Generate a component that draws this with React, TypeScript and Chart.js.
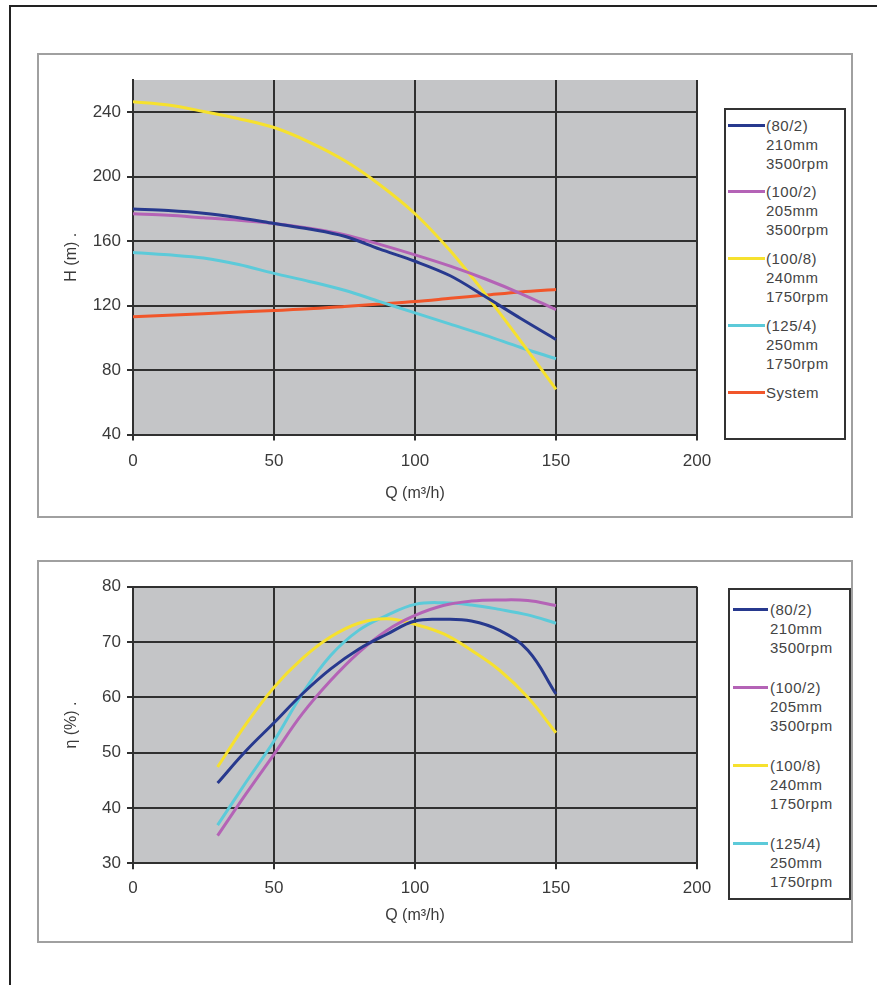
import React, { useEffect, useRef } from "react";
import { Chart, registerables } from "chart.js";

Chart.register(...registerables);

// ---------- DATA ----------
// Head curves, H (m) vs Q (m3/h)
const headQ = [0, 12.5, 25, 37.5, 50, 62.5, 75, 87.5, 100, 112.5, 125, 137.5, 150];
const head80_2 = [180, 179, 177.3, 174.5, 171, 167.5, 163, 155, 147.5, 138.5, 125.5, 112, 99];
const head100_2 = [177, 176, 174.5, 173, 171, 168, 164, 158, 151.5, 144.5, 136.5, 127.5, 117.5];
const head100_8 = [246.5, 244.5, 240.5, 236, 230.5, 221.5, 210, 195, 177, 154, 127, 98, 68];
const head125_4 = [153, 151.5, 149.5, 145.5, 140, 135, 129.5, 122.5, 115.5, 108.5, 101.5, 94, 87];
const headSystem = [113, 114, 115, 116, 117, 118, 119.5, 121, 122.5, 124.5, 126.5, 128.5, 130];

// Efficiency curves, eta (%) vs Q (m3/h)
const effQ = [30, 40, 50, 60, 70, 80, 90, 100, 110, 120, 130, 140, 150];
const eff80_2 = [44.5, 50.3, 55.4, 60.6, 65.1, 68.7, 71.4, 73.8, 74.1, 73.8, 72.1, 68.5, 60.6];
const eff100_2 = [35, 42.5, 49.7, 57, 63, 68.1, 72.1, 74.8, 76.6, 77.4, 77.6, 77.5, 76.6];
const eff100_8 = [47.4, 55.1, 61.8, 67, 70.9, 73.4, 74.2, 73.2, 71.5, 68.5, 64.9, 60, 53.6];
const eff125_4 = [36.9, 44.6, 52.1, 60.6, 67.5, 72.1, 74.8, 76.8, 77.1, 76.7, 75.9, 74.9, 73.4];

// Legend labels
const label80_2 = ["(80/2)", "210mm", "3500rpm"];
const label100_2 = ["(100/2)", "205mm", "3500rpm"];
const label100_8 = ["(100/8)", "240mm", "1750rpm"];
const label125_4 = ["(125/4)", "250mm", "1750rpm"];
const labelSystem = ["System"];

// Axis settings
const xMin = 0, xMax = 200, xStep = 50;
const headMin = 40, headMax = 260, headStep = 40;
const effMin = 30, effMax = 80, effStep = 10;
const xTitle = "Q (m\u00B3/h)";
const headTitle = "H (m) .";
const effTitle = "\u03B7 (%) .";

// Colours
const cBlue = "#27398e";
const cPurple = "#b463b6";
const cYellow = "#f6e12e";
const cCyan = "#5ccad9";
const cRed = "#f1562a";

const FONT = "'Liberation Sans', Arial, sans-serif";

type Series = { label: string[]; color: string; q: number[]; v: number[] };

const headSeries: Series[] = [
  { label: label80_2, color: cBlue, q: headQ, v: head80_2 },
  { label: label100_2, color: cPurple, q: headQ, v: head100_2 },
  { label: label100_8, color: cYellow, q: headQ, v: head100_8 },
  { label: label125_4, color: cCyan, q: headQ, v: head125_4 },
  { label: labelSystem, color: cRed, q: headQ, v: headSystem },
];

const effSeries: Series[] = [
  { label: label80_2, color: cBlue, q: effQ, v: eff80_2 },
  { label: label100_2, color: cPurple, q: effQ, v: eff100_2 },
  { label: label100_8, color: cYellow, q: effQ, v: eff100_8 },
  { label: label125_4, color: cCyan, q: effQ, v: eff125_4 },
];

const plotBg = {
  id: "plotBg",
  beforeDraw(chart: any) {
    const { ctx, chartArea } = chart;
    ctx.save();
    ctx.fillStyle = "#c4c5c7";
    ctx.fillRect(chartArea.left, chartArea.top, chartArea.width, chartArea.height);
    ctx.restore();
  },
};

type PanelProps = {
  series: Series[];
  yMin: number;
  yMax: number;
  yStep: number;
  yTitle: string;
  width: number;
  height: number;
  areaLeft: number;
  areaTop: number;
  areaRight: number;
  areaBottom: number;
  xTickPad: number;
  xTitlePad: number;
  yTitlePad: number;
  monotone: boolean;
};

function Panel(p: PanelProps) {
  const ref = useRef<HTMLCanvasElement | null>(null);
  useEffect(() => {
    if (!ref.current) return;
    const gridColor = "#303030";
    const chart = new Chart(ref.current, {
      type: "line",
      data: {
        datasets: p.series.map((s) => ({
          label: s.label.join(" "),
          data: s.q.map((x, i) => ({ x, y: s.v[i] })),
          borderColor: s.color,
          backgroundColor: s.color,
          borderWidth: 3,
          pointRadius: 0,
          tension: 0.4,
          cubicInterpolationMode: p.monotone ? "monotone" : "default",
          fill: false,
        })),
      },
      options: {
        animation: false,
        responsive: false,
        devicePixelRatio: 1,
        layout: {
          padding: { left: 0, top: p.areaTop, right: p.width - p.areaRight, bottom: 0 },
        },
        plugins: { legend: { display: false }, tooltip: { enabled: false } },
        scales: {
          x: {
            type: "linear",
            min: xMin,
            max: xMax,
            afterFit: (s: any) => {
              s.height = p.height - p.areaBottom;
            },
            ticks: {
              stepSize: xStep,
              color: "#3a3a3a",
              font: { family: FONT, size: 17 },
              padding: p.xTickPad,
              maxRotation: 0,
            },
            grid: { color: gridColor, lineWidth: 2, tickLength: 6 },
            border: { color: gridColor, width: 2 },
            title: {
              display: true,
              text: xTitle,
              color: "#3a3a3a",
              font: { family: FONT, size: 16 },
              padding: { top: 0, bottom: p.xTitlePad },
            },
          },
          y: {
            type: "linear",
            min: p.yMin,
            max: p.yMax,
            afterFit: (s: any) => {
              s.width = p.areaLeft;
            },
            ticks: {
              stepSize: p.yStep,
              includeBounds: false,
              color: "#3a3a3a",
              font: { family: FONT, size: 17 },
              padding: 6,
            },
            grid: { color: gridColor, lineWidth: 2, tickLength: 6 },
            border: { color: gridColor, width: 2 },
            title: {
              display: true,
              text: p.yTitle,
              color: "#3a3a3a",
              font: { family: FONT, size: 16 },
              padding: { top: p.yTitlePad, bottom: 0 },
            },
          },
        },
      } as any,
      plugins: [plotBg],
    });
    return () => chart.destroy();
  }, []);
  return (
    <canvas
      ref={ref}
      width={p.width}
      height={p.height}
      style={{ position: "absolute", left: 0, top: 0, width: p.width, height: p.height }}
    />
  );
}

type LegendProps = {
  series: Series[];
  left: number;
  top: number;
  width: number;
  height: number;
  firstCenter: number;
  spacing: number;
  swatchLeft: number;
  swatchWidth: number;
  textLeft: number;
};

function Legend(l: LegendProps) {
  const lh = 19;
  return (
    <div
      style={{
        position: "absolute",
        left: l.left,
        top: l.top,
        width: l.width,
        height: l.height,
        border: "2px solid #333",
        boxSizing: "border-box",
        background: "#fff",
      }}
    >
      {l.series.map((s, i) => {
        const c = l.firstCenter + i * l.spacing;
        return (
          <div key={i}>
            <div
              style={{
                position: "absolute",
                left: l.swatchLeft,
                top: c - 1.5,
                width: l.swatchWidth,
                height: 3,
                background: s.color,
              }}
            />
            <div
              style={{
                position: "absolute",
                left: l.textLeft,
                top: c - lh / 2,
                fontFamily: FONT,
                fontSize: 15,
                lineHeight: lh + "px",
                color: "#444",
                letterSpacing: "0.5px",
                whiteSpace: "nowrap",
              }}
            >
              {s.label.map((t, j) => (
                <div key={j}>{t}</div>
              ))}
            </div>
          </div>
        );
      })}
    </div>
  );
}

export default function App() {
  return (
    <div style={{ position: "absolute", left: 0, top: 0, width: 877, height: 985, overflow: "hidden", background: "#fff" }}>
      {/* page frame */}
      <div
        style={{
          position: "absolute",
          left: 9,
          top: 5,
          width: 900,
          height: 1000,
          borderLeft: "2px solid #222",
          borderTop: "2px solid #222",
        }}
      />
      {/* top chart box */}
      <div
        style={{
          position: "absolute",
          left: 37,
          top: 53,
          width: 816,
          height: 465,
          border: "2px solid #a0a0a0",
          boxSizing: "border-box",
          background: "#fff",
        }}
      >
        <Panel
          series={headSeries}
          yMin={headMin}
          yMax={headMax}
          yStep={headStep}
          yTitle={headTitle}
          width={812}
          height={461}
          areaLeft={94}
          areaTop={25}
          areaRight={658}
          areaBottom={379.5}
          xTickPad={11}
          xTitlePad={13}
          yTitlePad={23}
          monotone={true}
        />
      </div>
      <Legend
        series={headSeries}
        left={724}
        top={108}
        width={122}
        height={332}
        firstCenter={15}
        spacing={66.75}
        swatchLeft={2}
        swatchWidth={37}
        textLeft={40}
      />
      {/* bottom chart box */}
      <div
        style={{
          position: "absolute",
          left: 37,
          top: 560,
          width: 816,
          height: 383,
          border: "2px solid #a0a0a0",
          boxSizing: "border-box",
          background: "#fff",
        }}
      >
        <Panel
          series={effSeries}
          yMin={effMin}
          yMax={effMax}
          yStep={effStep}
          yTitle={effTitle}
          width={812}
          height={379}
          areaLeft={94}
          areaTop={24.7}
          areaRight={658}
          areaBottom={301.3}
          xTickPad={9}
          xTitlePad={16}
          yTitlePad={23}
          monotone={false}
        />
      </div>
      <Legend
        series={effSeries}
        left={727.7}
        top={588.3}
        width={123.3}
        height={312}
        firstCenter={19.7}
        spacing={77.8}
        swatchLeft={3.3}
        swatchWidth={35}
        textLeft={40.3}
      />
    </div>
  );
}
